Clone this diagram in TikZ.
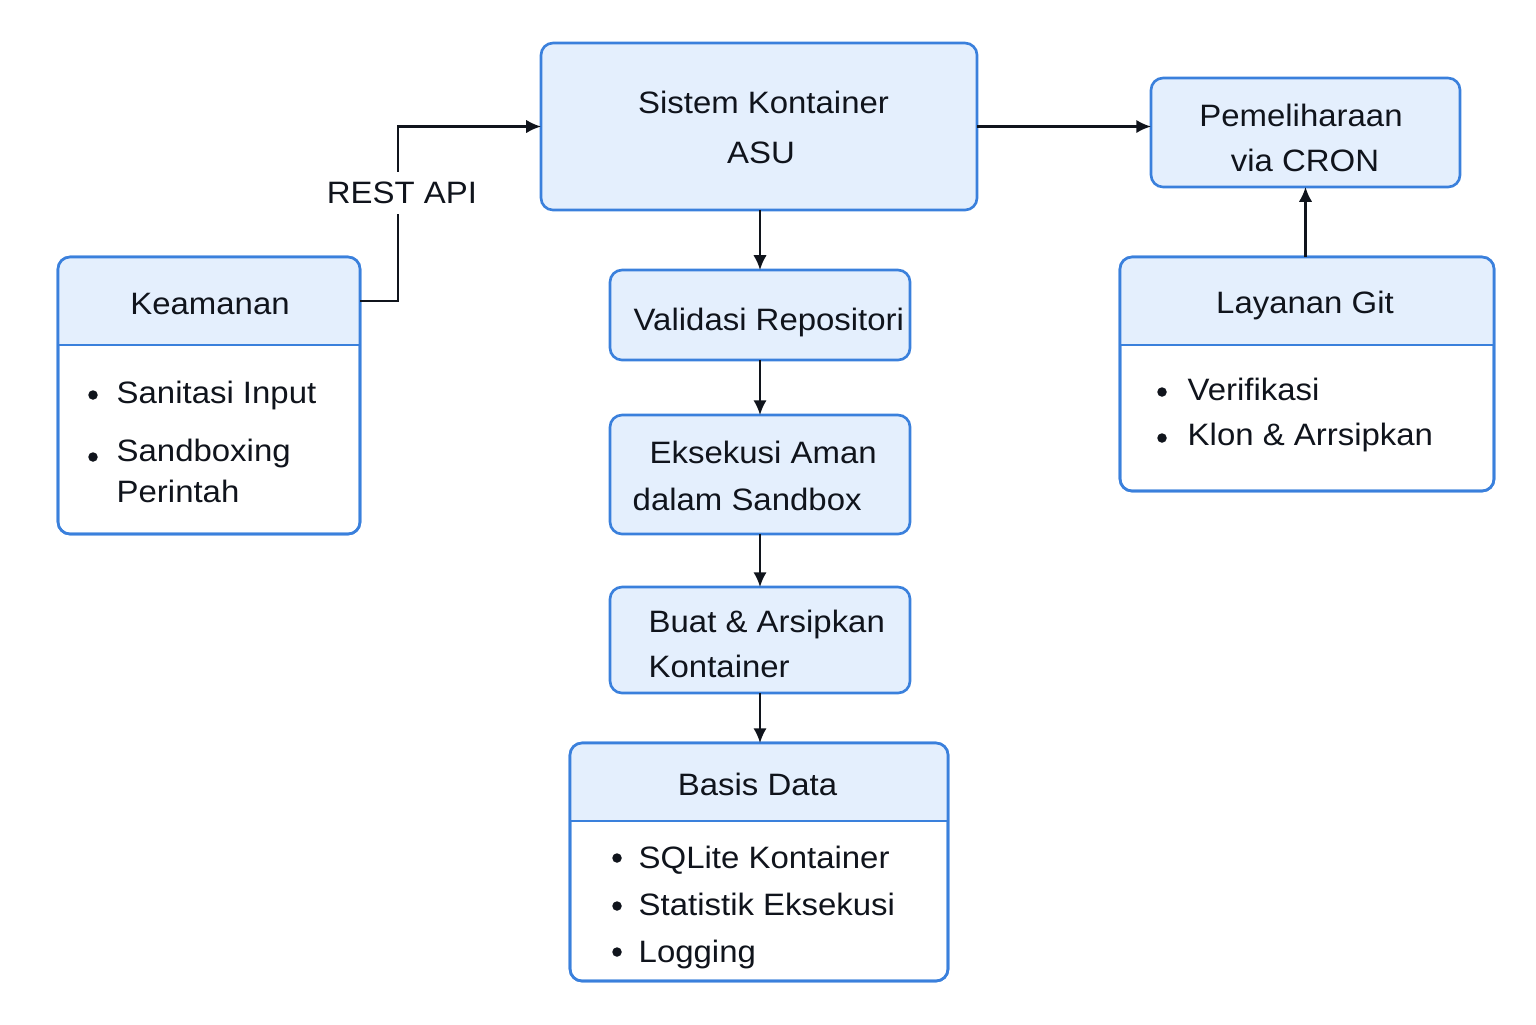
\documentclass[tikz,border=0pt]{standalone}
\usepackage{fontspec}
\setmainfont[FakeStretch=1.065]{Liberation Sans}
\usetikzlibrary{arrows.meta}
\definecolor{edgeblue}{RGB}{58,128,220}
\definecolor{paleblue}{RGB}{228,239,253}
\definecolor{ink}{RGB}{16,20,28}
\begin{document}
\begin{tikzpicture}[
  box/.style={draw=edgeblue, line width=0.75pt, rounded corners=0.12cm, outer sep=0pt, inner sep=0pt},
  fillbox/.style={box, fill=paleblue},
  panel/.style={box, fill=white},
  txt/.style={font=\fontsize{8.8}{10.5}\selectfont, text=ink, inner sep=0pt},
  dot/.style={circle, fill=ink, inner sep=0pt, minimum size=0.095cm},
  arr/.style={draw=ink, line width=0.6pt, -{Latex[length=4.2pt,width=3.8pt]}},
  lbl/.style={txt, fill=white, inner xsep=1pt, inner ysep=0.1cm}
]
\useasboundingbox (0,0) rectangle (15.36,-10.24);
% main boxes
\node[fillbox, minimum width=4.36cm, minimum height=1.67cm] (asu) at (7.59,-1.265) {};
\node[fillbox, minimum width=3.09cm, minimum height=1.09cm] (cron) at (13.055,-1.325) {};
\node[fillbox, minimum width=3.00cm, minimum height=0.90cm] (valid) at (7.60,-3.15) {};
\node[fillbox, minimum width=3.00cm, minimum height=1.19cm] (eks) at (7.60,-4.745) {};
\node[fillbox, minimum width=3.00cm, minimum height=1.06cm] (buat) at (7.60,-6.40) {};
% panels with header
\node[panel, minimum width=3.02cm, minimum height=2.77cm] (keam) at (2.09,-3.955) {};
\node[panel, minimum width=3.74cm, minimum height=2.34cm] (git) at (13.07,-3.74) {};
\node[panel, minimum width=3.78cm, minimum height=2.38cm] (basis) at (7.59,-8.62) {};
\begin{scope}
\clip[rounded corners=0.12cm] (keam.north west) rectangle (keam.south east);
\fill[paleblue] (keam.north west) rectangle ([yshift=-0.88cm]keam.north east);
\end{scope}
\begin{scope}
\clip[rounded corners=0.12cm] (git.north west) rectangle (git.south east);
\fill[paleblue] (git.north west) rectangle ([yshift=-0.88cm]git.north east);
\end{scope}
\begin{scope}
\clip[rounded corners=0.12cm] (basis.north west) rectangle (basis.south east);
\fill[paleblue] (basis.north west) rectangle ([yshift=-0.78cm]basis.north east);
\end{scope}
\draw[box] (keam.north west) rectangle (keam.south east);
\draw[box] (git.north west) rectangle (git.south east);
\draw[box] (basis.north west) rectangle (basis.south east);
\draw[edgeblue, line width=0.75pt] ([yshift=-0.88cm]keam.north west) -- ([yshift=-0.88cm]keam.north east);
\draw[edgeblue, line width=0.75pt] ([yshift=-0.88cm]git.north west) -- ([yshift=-0.88cm]git.north east);
\draw[edgeblue, line width=0.75pt] ([yshift=-0.78cm]basis.north west) -- ([yshift=-0.78cm]basis.north east);
% texts
\node[txt, anchor=base] (asu1) at (7.635,-1.133) {Sistem Kontainer};
\node[txt, anchor=base] (asu2) at (7.61,-1.633) {ASU};
\node[txt, anchor=base] (cron1) at (13.01,-1.267) {Pemeliharaan};
\node[txt, anchor=base] (cron2) at (13.05,-1.717) {via CRON};
\node[txt, anchor=base west] (valid1) at (6.33,-3.30) {Validasi Repositori};
\node[txt, anchor=base west] (eks1) at (6.49,-4.63) {Eksekusi Aman};
\node[txt, anchor=base west] (eks2) at (6.32,-5.10) {dalam Sandbox};
\node[txt, anchor=base west] (buat1) at (6.48,-6.32) {Buat \& Arsipkan};
\node[txt, anchor=base west] (buat2) at (6.48,-6.77) {Kontainer};
\node[txt, anchor=base] (keamh) at (2.10,-3.14) {Keamanan};
\node[dot] (kb1) at (0.93,-3.95) {};
\node[txt, anchor=base west] (keam1) at (1.16,-4.03) {Sanitasi Input};
\node[dot] (kb2) at (0.93,-4.57) {};
\node[txt, anchor=base west] (keam2) at (1.16,-4.61) {Sandboxing};
\node[txt, anchor=base west] (keam3) at (1.16,-5.02) {Perintah};
\node[txt, anchor=base] (gith) at (13.05,-3.13) {Layanan Git};
\node[dot] (gb1) at (11.62,-3.92) {};
\node[txt, anchor=base west] (git1) at (11.87,-4.00) {Verifikasi};
\node[dot] (gb2) at (11.62,-4.38) {};
\node[txt, anchor=base west] (git2) at (11.87,-4.45) {Klon \& Arrsipkan};
\node[txt, anchor=base] (basish) at (7.575,-7.95) {Basis Data};
\node[dot] (bb1) at (6.17,-8.58) {};
\node[txt, anchor=base west] (basis1) at (6.38,-8.68) {SQLite Kontainer};
\node[dot] (bb2) at (6.17,-9.06) {};
\node[txt, anchor=base west] (basis2) at (6.38,-9.15) {Statistik Eksekusi};
\node[dot] (bb3) at (6.17,-9.52) {};
\node[txt, anchor=base west] (basis3) at (6.38,-9.62) {Logging};
% connectors
\draw[arr] ([yshift=-0.44cm]keam.north east) -- ++(0.38,0) |- node[lbl, pos=0.31, xshift=0.04cm] (rest) {REST API} (asu.west);
\draw[arr] (asu.east) -- (asu.east -| cron.west);
\draw[arr] (cron.south |- git.north) -- (cron.south);
\draw[arr] (valid.north |- asu.south) -- (valid.north);
\draw[arr] (valid) -- (eks);
\draw[arr] (eks) -- (buat);
\draw[arr] (buat.south) -- (buat.south |- basis.north);
\end{tikzpicture}
\end{document}
